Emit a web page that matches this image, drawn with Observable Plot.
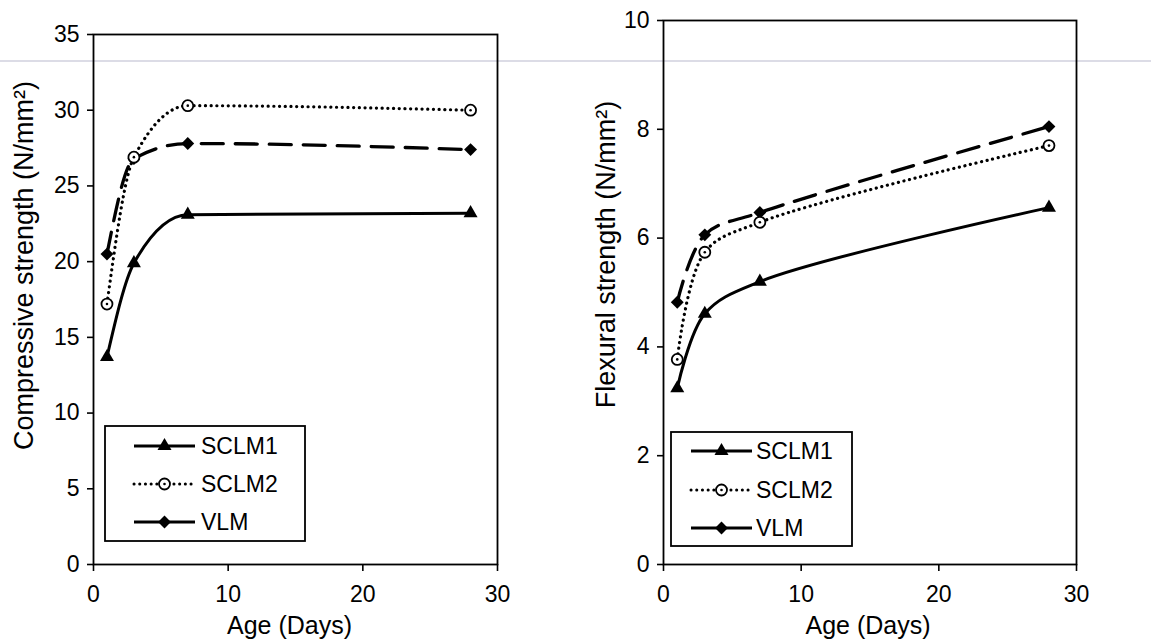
<!DOCTYPE html>
<html><head><meta charset="utf-8">
<script src="https://cdn.jsdelivr.net/npm/d3@7"></script>
<script src="https://cdn.jsdelivr.net/npm/@observablehq/plot@0.6"></script>
<style>
body{margin:0;background:#fff;}
#wrap{position:relative;width:1151px;height:643px;overflow:hidden;font-family:"Liberation Sans",Arial,sans-serif;}
#rule{position:absolute;left:0;top:60px;width:1151px;height:2px;background:#dcdce6;}
#left{position:absolute;left:0;top:0}
#right{position:absolute;left:575px;top:0}
</style></head><body>
<div id="wrap"><div id="rule"></div><div id="left"></div><div id="right"></div></div>
<script>
// ---- data ----
const days = [1, 3, 7, 28];
const seriesNames = ["SCLM1", "SCLM2", "VLM"];
const compSCLM1 = [13.7, 19.9, 23.1, 23.2];
const compSCLM2 = [17.2, 26.9, 30.3, 30.0];
const compVLM   = [20.5, 26.8, 27.8, 27.4];
const flexSCLM1 = [3.24, 4.61, 5.2, 6.56];
const flexSCLM2 = [3.77, 5.74, 6.29, 7.7];
const flexVLM   = [4.82, 6.06, 6.47, 8.05];
const xTicks = [0, 10, 20, 30];
const compTicks = [0, 5, 10, 15, 20, 25, 30, 35];
const flexTicks = [0, 2, 4, 6, 8, 10];
const xLabel = "Age (Days)";
const compLabel = "Compressive strength (N/mm²)";
const flexLabel = "Flexural strength (N/mm²)";

const FONT = '"Liberation Sans", Arial, sans-serif';
const toRows = (vals) => days.map((d, i) => ({day: d, v: vals[i]}));
const DOTS = "0.1,5.6";
const DASH = "22,12";

function panel(cfg) {
  const [s1, s2, s3] = cfg.series.map(toRows);
  const curve = cfg.curve;
  return Plot.plot({
    width: cfg.width, height: 643,
    marginLeft: cfg.ml, marginRight: cfg.mr, marginTop: cfg.mt, marginBottom: 79,
    style: {background: "transparent", fontFamily: FONT, fontSize: "23px", color: "#000"},
    x: {domain: [0, 30]},
    y: {domain: cfg.ydomain},
    marks: [
      Plot.axisX({ticks: xTicks, tickSize: 7, tickPadding: 14, strokeWidth: 1.6, label: null, fontSize: 23}),
      Plot.axisY({ticks: cfg.yticks, tickSize: 6, tickPadding: 8, strokeWidth: 1.6, label: null, fontSize: 23}),
      Plot.frame({stroke: "#000", strokeWidth: 1.8}),
      Plot.line(s1, {x: "day", y: "v", curve, stroke: "#000", strokeWidth: 3}),
      Plot.line(s2, {x: "day", y: "v", curve, stroke: "#000", strokeWidth: 3.2, strokeDasharray: DOTS, strokeLinecap: "round"}),
      Plot.line(s3, {x: "day", y: "v", curve, stroke: "#000", strokeWidth: 3.3, strokeDasharray: DASH}),
      Plot.dot(s1, {x: "day", y: "v", symbol: "triangle", r: 5.2, fill: "#000"}),
      Plot.dot(s3, {x: "day", y: "v", symbol: "diamond2", r: 5.8, fill: "#000"}),
      Plot.dot(s2, {x: "day", y: "v", symbol: "circle", r: 5.5, fill: "#fff", stroke: "#000", strokeWidth: 1.8}),
      Plot.dot(s2, {x: "day", y: "v", r: 1.3, fill: "#000"}),
      Plot.text([xLabel], {frameAnchor: "bottom", text: d => d, textAnchor: "middle", dx: cfg.xdx, dy: 61, lineAnchor: "middle", fontSize: 25}),
      Plot.text([cfg.ylabel], {frameAnchor: "left", text: d => d, textAnchor: "middle", rotate: -90, dx: cfg.ydx, dy: cfg.ydy, lineAnchor: "middle", fontSize: 27})
    ]
  });
}

function legend(svgNode, box) {
  const svg = d3.select(svgNode);
  const g = svg.append("g").attr("font-family", FONT).attr("font-size", 23).attr("text-anchor", "start");
  g.append("rect").attr("x", box.x0).attr("y", box.y0).attr("width", box.x1 - box.x0).attr("height", box.y1 - box.y0)
    .attr("fill", "#fff").attr("stroke", "#000").attr("stroke-width", 1.8);
  seriesNames.forEach((name, i) => {
    const y = box.rows[i];
    const ln = g.append("line").attr("x1", box.l0).attr("x2", box.l1).attr("y1", y).attr("y2", y).attr("stroke", "#000");
    if (i === 1) ln.attr("stroke-width", 3).attr("stroke-dasharray", DOTS).attr("stroke-linecap", "round");
    else ln.attr("stroke-width", 3);
    const cx = (box.l0 + box.l1) / 2;
    if (i === 0) g.append("path").attr("d", d3.symbol(d3.symbolTriangle, Math.PI * 5.2 * 5.2)()).attr("transform", `translate(${cx},${y})`).attr("fill", "#000");
    if (i === 2) g.append("path").attr("d", d3.symbol(d3.symbolDiamond2, Math.PI * 5.8 * 5.8)()).attr("transform", `translate(${cx},${y})`).attr("fill", "#000");
    if (i === 1) {
      g.append("circle").attr("cx", cx).attr("cy", y).attr("r", 5.5).attr("fill", "#fff").attr("stroke", "#000").attr("stroke-width", 1.8);
      g.append("circle").attr("cx", cx).attr("cy", y).attr("r", 1.3).attr("fill", "#000");
    }
    g.append("text").attr("x", box.tx).attr("y", y).attr("dy", "0.36em").text(name);
  });
}

const left = panel({width: 575, ml: 93, mr: 78, mt: 34, ydomain: [0, 35], yticks: compTicks, curve: "monotone-x",
  series: [compSCLM1, compSCLM2, compVLM], ylabel: compLabel, xdx: -6, ydx: -69, ydy: -34});
const right = panel({width: 576, ml: 88, mr: 75, mt: 20, ydomain: [0, 10], yticks: flexTicks, curve: "catmull-rom",
  series: [flexSCLM1, flexSCLM2, flexVLM], ylabel: flexLabel, xdx: -2, ydx: -57, ydy: -38});
document.getElementById("left").appendChild(left);
document.getElementById("right").appendChild(right);
legend(left, {x0: 105, x1: 305, y0: 426, y1: 541, l0: 134, l1: 195, tx: 201, rows: [446, 484, 522]});
legend(right, {x0: 96, x1: 277, y0: 432, y1: 546, l0: 116, l1: 177, tx: 181, rows: [451, 490, 528]});
</script>
</body></html>
